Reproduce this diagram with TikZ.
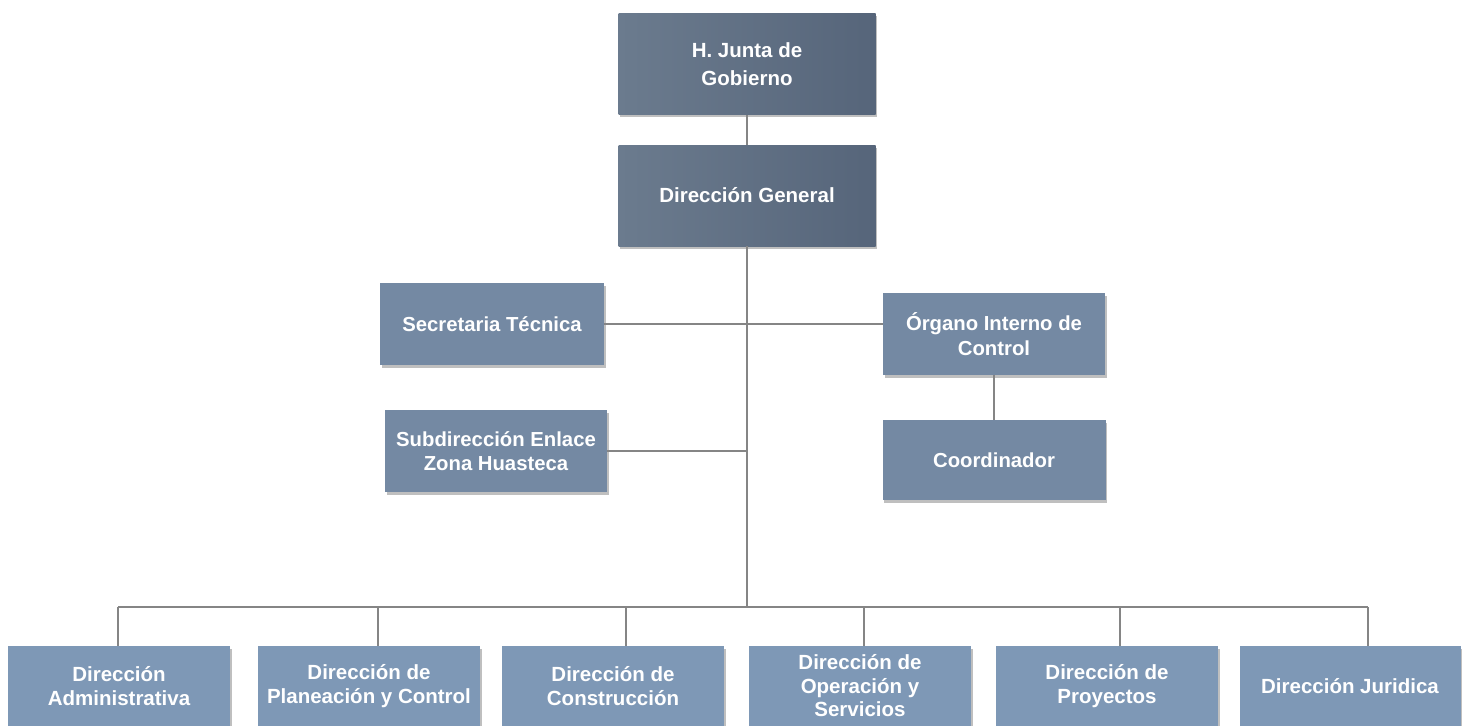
\documentclass[tikz,border=0pt]{standalone}
\usepackage{fontspec}
\setmainfont{Liberation Sans}
\usetikzlibrary{shadows}
\definecolor{topA}{HTML}{6B7B8E}
\definecolor{topB}{HTML}{56657A}
\definecolor{midC}{HTML}{7489A3}
\definecolor{botC}{HTML}{7E98B6}
\definecolor{lineC}{HTML}{858585}
\tikzset{
  box/.style={draw=none, align=center, text=white, inner sep=0pt,
    drop shadow={shadow xshift=1.5pt, shadow yshift=-2.5pt, opacity=0.25, fill=black}},
  topbox/.style={box, minimum width=257pt, minimum height=101pt,
    left color=topA, right color=topB,
    font=\fontsize{20.5}{28}\selectfont\bfseries},
  midbox/.style={box, fill=midC, minimum height=82pt,
    font=\fontsize{20.3}{24.5}\selectfont\bfseries},
  botbox/.style={box, fill=botC, minimum width=222pt, minimum height=80pt,
    font=\fontsize{20.5}{23.5}\selectfont\bfseries},
  conn/.style={draw=lineC, line width=2.3pt}
}
\begin{document}
\begin{tikzpicture}[x=1pt, y=-1pt]
\useasboundingbox (0,0) rectangle (1466,725);
% top
\node[topbox] (junta) at (747,64) {H. Junta de\\Gobierno};
\node[topbox] (dg) at (747,195.5) {Dirección General};
% middle
\node[midbox, minimum width=224pt] (sec) at (492,324) {Secretaria Técnica};
\node[midbox, minimum width=222pt] (org) at (994,334) {Órgano Interno de\\Control};
\node[midbox, minimum width=223pt, minimum height=80pt] (coord) at (994,460) {Coordinador};
\node[midbox, minimum width=222pt] (sub) at (496,451) {Subdirección Enlace\\Zona Huasteca};
% bottom
\node[botbox] (b1) at (119,686) {Dirección\\Administrativa};
\node[botbox] (b2) at (369,686) {Dirección de\\Planeación y Control};
\node[botbox] (b3) at (613,686) {Dirección de\\Construcción};
\node[botbox] (b4) at (860,686) {Dirección de\\Operación y\\Servicios};
\node[botbox] (b5) at (1107,686) {Dirección de\\Proyectos};
\node[botbox, minimum width=221pt] (b6) at (1350,686) {Dirección Juridica};
% connectors
\coordinate (bus) at (747,607);
\draw[conn] (junta.south) -- (dg.north);
\draw[conn] (dg.south) -- (bus);
\draw[conn] (sec.east) -- (org.west |- sec.east);
\draw[conn] (sub.east) -- (sub.east -| bus);
\draw[conn] (org.south) -- (coord.north);
\coordinate (d1) at ([xshift=-1pt]b1.north);
\coordinate (d2) at ([xshift=9pt]b2.north);
\coordinate (d3) at ([xshift=13pt]b3.north);
\coordinate (d4) at ([xshift=4pt]b4.north);
\coordinate (d5) at ([xshift=13pt]b5.north);
\coordinate (d6) at ([xshift=18pt]b6.north);
\draw[conn] (d1 |- bus) -- (d6 |- bus);
\foreach \d in {d1,d2,d3,d4,d5,d6} \draw[conn] (\d) -- (\d |- bus);
\end{tikzpicture}
\end{document}
